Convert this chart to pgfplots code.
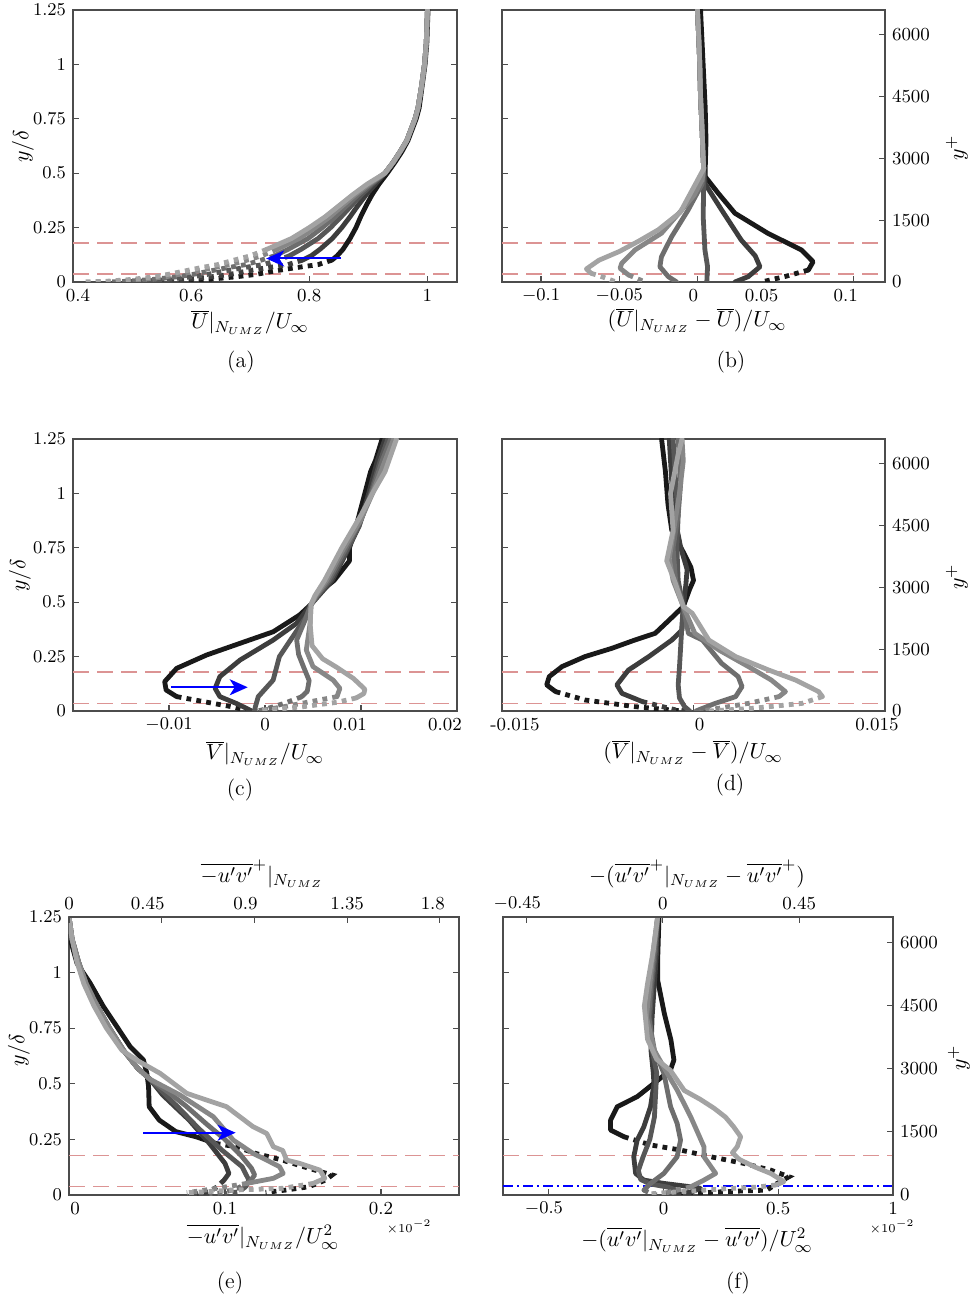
\documentclass[border=0pt]{standalone}
\usepackage{pgfplots}
\pgfplotsset{compat=1.18}
\usetikzlibrary{arrows.meta}

% grey levels of the six conditional profiles (darkest to lightest)
\definecolor{g1}{gray}{0.10}
\definecolor{g2}{gray}{0.24}
\definecolor{g3}{gray}{0.34}
\definecolor{g4}{gray}{0.43}
\definecolor{g5}{gray}{0.53}
\definecolor{g6}{gray}{0.64}
\definecolor{refred}{RGB}{220,148,148}
\definecolor{frame}{gray}{0.30}

\newcommand{\lab}{\fontsize{11}{13}\selectfont}
% shifts a tick label sideways by half the given length
\newcommand{\sh}[2]{\hspace*{#1}#2}

\pgfplotsset{
  panel/.style={
    scale only axis, anchor=south west,
    ymin=0, ymax=1.25,
    ytick={0,0.25,0.5,0.75,1,1.25},
    tick align=inside,
    major tick length=3pt,
    axis line style={frame, line width=0.6pt},
    every tick/.style={frame, line width=0.6pt},
    tick label style={font=\fontsize{9.2}{11}\selectfont},
    xtick pos=left,
    scaled ticks=false,
    clip mode=individual,
  },
  leftpanel/.style={panel, ytick pos=both, yticklabel pos=left},
  rightpanel/.style={panel, ytick pos=left, yticklabels={}},
  overlay/.style={
    scale only axis, anchor=south west,
    tick align=inside,
    major tick length=3pt,
    axis line style={-, frame, line width=0.6pt},
    every tick/.style={frame, line width=0.6pt},
    tick label style={font=\fontsize{9.2}{11}\selectfont},
    scaled ticks=false,
  },
  yplus/.style={
    axis y line*=right,
    ymin=0, ymax=6600,
    ytick={0,1500,3000,4500,6000},
    yticklabels={0,1500,3000,4500,6000},
  },
  sol/.style={line width=2.4pt, line join=round, line cap=round},
  dts/.style={line width=2.4pt, line cap=butt, dash pattern=on 2.4pt off 2.6pt},
  refline/.style={refred, line width=0.8pt, dash pattern=on 8pt off 4pt},
  arr/.style={blue, line width=1pt, -{Stealth[length=9pt,width=8pt,inset=2.5pt]}},
}

\begin{document}
\begin{tikzpicture}
\path[use as bounding box] (0,0) rectangle (489.5pt,650.5pt);

% ---------------- (a) mean streamwise velocity ----------------
\begin{axis}[leftpanel, at={(36.5pt,509.5pt)}, width=192pt, height=136pt,
  xmin=0.4, xmax=1.05, xtick={0.4,0.6,0.8,1}, xticklabels={\sh{5pt}{0.4},0.6,0.8,1}]
\addplot[refline] coordinates {(0.4,0.178)(1.05,0.178)};
\addplot[refline] coordinates {(0.4,0.037)(1.05,0.037)};
\addplot[g1,sol] coordinates {(1.001,1.25)(0.999,1.1)(0.996,1.0)(0.991,0.9)(0.986,0.8)(0.981,0.75)(0.967,0.65)(0.957,0.6)(0.945,0.55)(0.932,0.5)(0.918,0.45)(0.906,0.4)(0.896,0.35)(0.887,0.3)(0.879,0.25)(0.869,0.2)(0.857,0.15)(0.847,0.12)(0.838,0.1)};
\addplot[g1,dts] coordinates {(0.838,0.1)(0.815,0.08)(0.775,0.065)(0.74,0.05)(0.71,0.035)(0.68,0.025)(0.63,0.012)(0.575,0.003)(0.565,0)};
\addplot[g2,sol] coordinates {(1.0,1.25)(0.998,1.1)(0.995,1.0)(0.99,0.9)(0.984,0.8)(0.979,0.75)(0.965,0.65)(0.954,0.6)(0.942,0.55)(0.928,0.5)(0.912,0.45)(0.896,0.4)(0.882,0.35)(0.869,0.3)(0.855,0.25)(0.839,0.2)(0.818,0.15)(0.803,0.12)(0.788,0.1)};
\addplot[g2,dts] coordinates {(0.788,0.1)(0.764,0.08)(0.727,0.065)(0.694,0.05)(0.665,0.035)(0.638,0.025)(0.591,0.012)(0.539,0.003)(0.52,0)};
\addplot[g3,sol] coordinates {(1.0,1.25)(0.998,1.1)(0.995,1.0)(0.99,0.9)(0.984,0.8)(0.979,0.75)(0.965,0.65)(0.954,0.6)(0.942,0.55)(0.928,0.5)(0.907,0.45)(0.888,0.4)(0.871,0.35)(0.854,0.3)(0.836,0.25)(0.815,0.2)(0.786,0.15)(0.766,0.12)};
\addplot[g3,dts] coordinates {(0.766,0.12)(0.747,0.1)(0.722,0.08)(0.687,0.065)(0.656,0.05)(0.628,0.035)(0.604,0.025)(0.559,0.012)(0.509,0.003)(0.483,0)};
\addplot[g4,sol] coordinates {(1.0,1.25)(0.998,1.1)(0.995,1.0)(0.99,0.9)(0.984,0.8)(0.979,0.75)(0.965,0.65)(0.954,0.6)(0.942,0.55)(0.928,0.5)(0.904,0.45)(0.882,0.4)(0.863,0.35)(0.844,0.3)(0.822,0.25)(0.798,0.2)(0.764,0.15)(0.741,0.12)};
\addplot[g4,dts] coordinates {(0.741,0.12)(0.718,0.1)(0.693,0.08)(0.66,0.065)(0.631,0.05)(0.603,0.035)(0.58,0.025)(0.536,0.012)(0.489,0.003)(0.457,0)};
\addplot[g5,sol] coordinates {(1.0,1.25)(0.998,1.1)(0.995,1.0)(0.99,0.9)(0.984,0.8)(0.979,0.75)(0.965,0.65)(0.954,0.6)(0.942,0.55)(0.928,0.5)(0.901,0.45)(0.877,0.4)(0.856,0.35)(0.835,0.3)(0.81,0.25)(0.783,0.2)(0.745,0.15)};
\addplot[g5,dts] coordinates {(0.745,0.15)(0.719,0.12)(0.694,0.1)(0.667,0.08)(0.636,0.065)(0.608,0.05)(0.58,0.035)(0.559,0.025)(0.517,0.012)(0.471,0.003)(0.434,0)};
\addplot[g6,sol] coordinates {(1.0,1.25)(0.998,1.1)(0.995,1.0)(0.99,0.9)(0.984,0.8)(0.979,0.75)(0.965,0.65)(0.954,0.6)(0.942,0.55)(0.928,0.5)(0.898,0.45)(0.873,0.4)(0.85,0.35)(0.827,0.3)(0.8,0.25)(0.77,0.2)(0.728,0.15)};
\addplot[g6,dts] coordinates {(0.728,0.15)(0.7,0.12)(0.672,0.1)(0.645,0.08)(0.615,0.065)(0.588,0.05)(0.561,0.035)(0.541,0.025)(0.5,0.012)(0.455,0.003)(0.415,0)};
\addplot[arr] coordinates {(0.854,0.108)(0.727,0.108)};
\end{axis}

% ---------------- (b) streamwise velocity deficit ----------------
\begin{axis}[rightpanel, at={(251pt,509.5pt)}, width=191.5pt, height=136pt,
  xmin=-0.125, xmax=0.12, xtick={-0.1,-0.05,0,0.05,0.1},
  xticklabels={$-0.1$,$-0.05$,\sh{-4pt}{0},\sh{-14pt}{0.05},\sh{-8pt}{0.1}}]
\addplot[refline] coordinates {(-0.125,0.178)(0.12,0.178)};
\addplot[refline] coordinates {(-0.125,0.037)(0.12,0.037)};
\addplot[g1,sol] coordinates {(0.002,1.25)(0.003,1.1)(0.004,0.95)(0.005,0.8)(0.0055,0.65)(0.005,0.52)(0.005,0.484)(0.0134,0.407)(0.024,0.316)(0.045,0.224)(0.0666,0.147)(0.074,0.093)(0.071,0.055)};
\addplot[g1,dts] coordinates {(0.071,0.055)(0.056,0.025)(0.041,0)};
\addplot[g2,sol] coordinates {(0.0,1.25)(0.001,1.1)(0.0015,1.0)(0.002,0.85)(0.003,0.7)(0.0035,0.6)(0.004,0.52)(0.005,0.45)(0.0155,0.331)(0.028,0.193)(0.037,0.12)(0.04,0.07)(0.0325,0.0245)(0.024,0)};
\addplot[g3,sol] coordinates {(0.0,1.25)(0.001,1.1)(0.0015,1.0)(0.002,0.85)(0.003,0.7)(0.0035,0.6)(0.004,0.52)(0.004,0.45)(0.0037,0.3)(0.0048,0.147)(0.0065,0.07)(0.006,0)};
\addplot[g4,sol] coordinates {(0.0,1.25)(0.001,1.1)(0.0015,1.0)(0.002,0.85)(0.003,0.7)(0.0035,0.6)(0.004,0.52)(0.003,0.45)(-0.006,0.33)(-0.0165,0.208)(-0.023,0.116)(-0.024,0.07)(-0.0186,0.0245)(-0.0133,0)};
\addplot[g5,sol] coordinates {(0.0,1.25)(0.001,1.1)(0.0015,1.0)(0.002,0.85)(0.003,0.7)(0.0035,0.6)(0.004,0.52)(0.003,0.47)(-0.002,0.4)(-0.01,0.331)(-0.023,0.224)(-0.04,0.147)(-0.0484,0.086)(-0.0495,0.063)(-0.044,0.032)};
\addplot[g5,dts] coordinates {(-0.044,0.032)(-0.0335,0)};
\addplot[g6,sol] coordinates {(0.0,1.25)(0.001,1.1)(0.0015,1.0)(0.002,0.85)(0.003,0.7)(0.0035,0.6)(0.004,0.52)(-0.002,0.44)(-0.011,0.32)(-0.025,0.24)(-0.037,0.19)(-0.05,0.14)(-0.063,0.1)(-0.071,0.06)(-0.068,0.04)};
\addplot[g6,dts] coordinates {(-0.068,0.04)(-0.061,0.024)(-0.052,0)};
\end{axis}
\begin{axis}[overlay, yplus, hide x axis, xmin=0, xmax=1, at={(251pt,509.5pt)}, width=191.5pt, height=136pt]
\end{axis}

% ---------------- (c) mean wall-normal velocity ----------------
\begin{axis}[leftpanel, at={(36.5pt,295pt)}, width=192pt, height=136pt,
  xmin=-0.02, xmax=0.02, xtick={-0.01,0,0.01,0.02},
  xticklabels={$-0.01$,0,\sh{-11pt}{0.01},\sh{-12pt}{0.02}}]
\addplot[refline] coordinates {(-0.02,0.178)(0.02,0.178)};
\addplot[refline] coordinates {(-0.02,0.034)(0.02,0.034)};
\addplot[g1,sol] coordinates {(0.0122,1.25)(0.0115,1.15)(0.011,1.1)(0.0104,1.0)(0.0095,0.85)(0.0088,0.75)(0.0088,0.69)(0.0072,0.6)(0.0058,0.55)(0.0048,0.49)(0.0036,0.441)(0.00085,0.364)(-0.0026,0.311)(-0.0061,0.257)(-0.0092,0.196)(-0.01045,0.135)(-0.0103,0.0965)(-0.0092,0.066)};
\addplot[g1,dts] coordinates {(-0.0092,0.066)(-0.0054,0.035)(-0.0035,0.02)(-0.0016,0)};
\addplot[g2,sol] coordinates {(0.0125,1.25)(0.0117,1.15)(0.0108,1.0)(0.0098,0.85)(0.0084,0.72)(0.007,0.6)(0.0056,0.53)(0.0048,0.49)(0.0033,0.403)(0.00085,0.326)(-0.0026,0.234)(-0.0047,0.158)(-0.0052,0.104)(-0.0047,0.066)(-0.003,0.035)(-0.0016,0.005)(-0.0014,0)};
\addplot[g3,sol] coordinates {(0.0128,1.25)(0.012,1.15)(0.011,1.0)(0.0098,0.85)(0.0083,0.72)(0.0068,0.6)(0.0055,0.53)(0.0048,0.49)(0.0043,0.434)(0.0029,0.342)(0.0015,0.25)(0.00085,0.142)(-0.0007,0.066)(-0.001,0.02)(-0.0011,0)};
\addplot[g4,sol] coordinates {(0.0131,1.25)(0.0122,1.15)(0.0111,1.0)(0.0099,0.87)(0.0082,0.73)(0.0066,0.6)(0.0054,0.53)(0.0048,0.49)(0.0042,0.42)(0.0033,0.326)(0.0035,0.26)(0.004,0.204)(0.0046,0.14)(0.0044,0.09)(0.0038,0.065)};
\addplot[g4,dts] coordinates {(0.0038,0.065)(0.002,0.035)(0.0,0.008)(-0.0008,0)};
\addplot[g5,sol] coordinates {(0.0134,1.25)(0.0125,1.15)(0.0112,1.0)(0.01,0.88)(0.0081,0.74)(0.0064,0.6)(0.0053,0.53)(0.0048,0.49)(0.0047,0.403)(0.0043,0.28)(0.005,0.204)(0.0071,0.142)(0.0078,0.104)(0.0075,0.066)};
\addplot[g5,dts] coordinates {(0.0075,0.066)(0.005,0.045)(0.002,0.02)(-0.0008,0)};
\addplot[g6,sol] coordinates {(0.0137,1.25)(0.0125,1.1)(0.0112,1.0)(0.01,0.9)(0.008,0.75)(0.0062,0.6)(0.0052,0.53)(0.0048,0.49)(0.0047,0.4)(0.0049,0.3)(0.006,0.24)(0.0075,0.2)(0.0092,0.15)(0.0104,0.1)(0.0103,0.08)(0.0095,0.06)};
\addplot[g6,dts] coordinates {(0.0095,0.06)(0.0075,0.04)(0.004,0.02)(0.0,0.003)(-0.0006,0)};
\addplot[arr] coordinates {(-0.0098,0.109)(-0.0018,0.109)};
\end{axis}

% ---------------- (d) wall-normal velocity deficit ----------------
\begin{axis}[rightpanel, at={(251pt,295pt)}, width=191.5pt, height=136pt,
  xmin=-0.015, xmax=0.015, xtick={-0.015,0,0.015},
  xticklabels={\sh{13pt}{-0.015},\sh{6pt}{0},\sh{-8pt}{0.015}}]
\addplot[refline] coordinates {(-0.015,0.178)(0.015,0.178)};
\addplot[refline] coordinates {(-0.015,0.034)(0.015,0.034)};
\addplot[g1,sol] coordinates {(-0.0025,1.25)(-0.0022,1.1)(-0.002,0.95)(-0.0017,0.83)(-0.0008,0.73)(-0.0002,0.66)(0.0,0.6)(-0.0003,0.56)(-0.0008,0.48)(-0.0019,0.418)(-0.003,0.357)(-0.0046,0.326)(-0.0064,0.288)(-0.0085,0.25)(-0.0103,0.204)(-0.0113,0.158)(-0.0115,0.12)(-0.0108,0.089)};
\addplot[g1,dts] coordinates {(-0.0108,0.089)(-0.0085,0.0506)(-0.0046,0.02)(-0.0009,0)};
\addplot[g2,sol] coordinates {(-0.0019,1.25)(-0.0017,1.05)(-0.0015,0.9)(-0.001,0.75)(-0.0005,0.65)(-0.0006,0.58)(-0.0008,0.48)(-0.0009,0.372)(-0.0017,0.326)(-0.0035,0.25)(-0.0051,0.188)(-0.006,0.12)(-0.0056,0.081)(-0.004,0.043)};
\addplot[g2,dts] coordinates {(-0.004,0.043)(-0.0014,0.005)(-0.0005,0)};
\addplot[g3,sol] coordinates {(-0.0016,1.25)(-0.0014,1.05)(-0.0012,0.9)(-0.0013,0.75)(-0.0012,0.6)(-0.0008,0.48)(-0.0009,0.4)(-0.001,0.3)(-0.0011,0.2)(-0.0012,0.12)(-0.0011,0.06)(-0.0007,0.02)(-0.0003,0)};
\addplot[g4,sol] coordinates {(-0.0012,1.25)(-0.001,1.05)(-0.0012,0.9)(-0.0016,0.75)(-0.0014,0.6)(-0.0008,0.48)(-0.0004,0.357)(0.0007,0.326)(0.0022,0.219)(0.0035,0.158)(0.0038,0.112)(0.0033,0.066)(0.0017,0.035)(0.0004,0.005)(0.0002,0)};
\addplot[g5,sol] coordinates {(-0.0009,1.25)(-0.0008,1.15)(-0.0011,1.0)(-0.0015,0.85)(-0.0019,0.7)(-0.0016,0.6)(-0.0008,0.48)(0.0001,0.357)(0.002,0.28)(0.0043,0.204)(0.0061,0.142)(0.0072,0.089)(0.0067,0.066)};
\addplot[g5,dts] coordinates {(0.0067,0.066)(0.0043,0.035)(0.0012,0.005)(0.0005,0)};
\addplot[g6,sol] coordinates {(-0.0009,1.25)(-0.0012,1.18)(-0.0018,1.0)(-0.0016,0.83)(-0.0021,0.69)(-0.0015,0.6)(-0.0008,0.48)(-0.0001,0.449)(0.0012,0.326)(0.0033,0.25)(0.0059,0.188)(0.008,0.142)(0.0098,0.089)(0.0101,0.066)};
\addplot[g6,dts] coordinates {(0.0101,0.066)(0.0085,0.035)(0.0046,0.012)(0.0012,0)};
\end{axis}
\begin{axis}[overlay, yplus, hide x axis, xmin=0, xmax=1, at={(251pt,295pt)}, width=191.5pt, height=136pt]
\end{axis}

% ---------------- (e) Reynolds shear stress ----------------
\begin{axis}[leftpanel, at={(34.5pt,53pt)}, width=195pt, height=139pt,
  xmin=0, xmax=0.25, xtick={0,0.1,0.2}, xticklabels={\sh{6pt}{0},0.1,0.2}]
\addplot[refline] coordinates {(0,0.177)(0.25,0.177)};
\addplot[refline] coordinates {(0,0.038)(0.25,0.038)};
\addplot[g1,sol] coordinates {(0,1.17)(0.0051,1.042)(0.0136,0.952)(0.0221,0.847)(0.0307,0.757)(0.0392,0.667)(0.0477,0.607)(0.0499,0.547)(0.051,0.487)(0.0514,0.397)(0.0578,0.337)(0.0685,0.285)(0.0813,0.262)(0.094,0.232)};
\addplot[g1,dts] coordinates {(0.094,0.232)(0.1068,0.217)(0.1196,0.187)(0.1367,0.157)(0.1537,0.12)(0.1687,0.09)(0.1644,0.067)(0.1537,0.037)(0.1388,0.022)(0.126,0.012)};
\addplot[g2,sol] coordinates {(0,1.25)(0.002,1.15)(0.006,1.05)(0.011,0.95)(0.018,0.85)(0.026,0.75)(0.035,0.65)(0.044,0.57)(0.052,0.52)(0.06,0.45)(0.069,0.39)(0.077,0.337)(0.09,0.232)(0.1,0.142)(0.1025,0.097)(0.0994,0.067)};
\addplot[g2,dts] coordinates {(0.0994,0.067)(0.095,0.037)(0.09,0.015)(0.082,0.005)};
\addplot[g3,sol] coordinates {(0,1.25)(0.002,1.15)(0.006,1.05)(0.011,0.95)(0.018,0.85)(0.026,0.75)(0.035,0.65)(0.044,0.57)(0.052,0.52)(0.062,0.45)(0.0706,0.39)(0.083,0.3)(0.098,0.202)(0.111,0.127)(0.1153,0.067)(0.1132,0.037)};
\addplot[g3,dts] coordinates {(0.1132,0.037)(0.109,0.015)(0.1,0.005)};
\addplot[g4,sol] coordinates {(0,1.25)(0.002,1.15)(0.006,1.05)(0.011,0.95)(0.018,0.85)(0.026,0.75)(0.035,0.65)(0.044,0.57)(0.052,0.52)(0.064,0.46)(0.075,0.4)(0.088,0.32)(0.1,0.25)(0.11,0.18)(0.117,0.12)(0.119,0.09)(0.116,0.06)};
\addplot[g4,dts] coordinates {(0.116,0.06)(0.108,0.03)(0.098,0.01)(0.09,0.004)};
\addplot[g5,sol] coordinates {(0,1.25)(0.002,1.15)(0.006,1.05)(0.011,0.95)(0.018,0.85)(0.026,0.75)(0.035,0.65)(0.044,0.57)(0.052,0.52)(0.071,0.45)(0.0925,0.352)(0.1053,0.247)(0.118,0.187)(0.1267,0.157)(0.135,0.127)(0.1373,0.097)(0.131,0.075)(0.1139,0.052)};
\addplot[g5,dts] coordinates {(0.1139,0.052)(0.0947,0.03)(0.0755,0.01)};
\addplot[g6,sol] coordinates {(0,1.25)(0.002,1.15)(0.005,1.05)(0.0095,0.95)(0.016,0.85)(0.024,0.75)(0.034,0.65)(0.045,0.6)(0.0584,0.547)(0.0755,0.457)(0.101,0.397)(0.118,0.307)(0.1267,0.277)(0.131,0.217)(0.137,0.2)(0.1395,0.157)(0.148,0.142)(0.1608,0.112)(0.164,0.075)(0.1565,0.052)};
\addplot[g6,dts] coordinates {(0.1565,0.052)(0.137,0.03)(0.105,0.022)(0.0755,0.01)};
\addplot[arr] coordinates {(0.0475,0.28)(0.1068,0.28)};
\end{axis}
\begin{axis}[overlay, axis x line*=top, hide y axis, ymin=0, ymax=1,
  at={(34.5pt,53pt)}, width=195pt, height=139pt,
  xmin=0, xmax=1.893, xtick={0,0.45,0.9,1.35,1.8},
  xticklabels={0,\sh{-14pt}{0.45},\sh{-9pt}{0.9},1.35,\sh{-7pt}{1.8}}]
\end{axis}

% ---------------- (f) Reynolds shear stress deficit ----------------
\begin{axis}[rightpanel, at={(251.5pt,53pt)}, width=195pt, height=139pt,
  xmin=-0.7, xmax=1.0, xtick={-0.5,0,0.5,1}, xticklabels={\sh{-5pt}{$-0.5$},0,0.5,1}]
\addplot[refline] coordinates {(-0.7,0.177)(1.0,0.177)};
\addplot[blue, line width=0.9pt, dash pattern=on 5pt off 2pt on 1pt off 2pt] coordinates {(-0.7,0.04)(1.0,0.04)};
\addplot[g1,sol] coordinates {(-0.02,1.25)(-0.026,1.05)(-0.026,0.967)(0.003,0.817)(0.032,0.697)(0.045,0.607)(0.03,0.562)(-0.042,0.502)(-0.115,0.442)(-0.202,0.397)(-0.231,0.337)(-0.231,0.292)(-0.173,0.262)};
\addplot[g1,dts] coordinates {(-0.173,0.262)(-0.057,0.225)(0.074,0.202)(0.205,0.172)(0.35,0.142)(0.4666,0.112)(0.5465,0.082)(0.495,0.052)(0.45,0.022)(0.264,0.015)(0.119,0.007)(0.047,0)};
\addplot[g2,sol] coordinates {(-0.026,1.25)(-0.03,1.1)(-0.04,0.95)(-0.05,0.8)(-0.055,0.65)(-0.045,0.55)(-0.042,0.5)(-0.057,0.397)(-0.086,0.307)(-0.115,0.247)(-0.13,0.172)(-0.122,0.097)(-0.086,0.067)(0.0013,0.052)(0.118,0.037)(0.161,0.03)(0.118,0.012)};
\addplot[g2,dts] coordinates {(0.118,0.012)(0.05,0.005)(0.0,0)};
\addplot[g3,sol] coordinates {(-0.026,1.25)(-0.035,1.1)(-0.05,0.95)(-0.06,0.8)(-0.05,0.65)(-0.03,0.55)(-0.035,0.45)(-0.04,0.35)(-0.06,0.25)(-0.09,0.17)(-0.11,0.11)(-0.1,0.07)(-0.06,0.05)(0.02,0.035)(0.06,0.02)};
\addplot[g3,dts] coordinates {(0.06,0.02)(0.02,0.008)(-0.02,0)};
\addplot[g4,sol] coordinates {(-0.026,1.25)(-0.04,1.1)(-0.055,0.95)(-0.065,0.8)(-0.04,0.65)(0.0013,0.547)(0.0305,0.397)(0.059,0.322)(0.074,0.247)(0.059,0.172)(0.0013,0.097)(-0.057,0.052)(-0.086,0.022)};
\addplot[g4,dts] coordinates {(-0.086,0.022)(-0.057,0.007)(-0.03,0)};
\addplot[g5,sol] coordinates {(-0.026,1.25)(-0.045,1.1)(-0.06,0.95)(-0.075,0.8)(-0.04,0.65)(0.016,0.547)(0.059,0.472)(0.118,0.352)(0.176,0.217)(0.176,0.172)(0.227,0.097)(0.176,0.067)(0.118,0.037)};
\addplot[g5,dts] coordinates {(0.118,0.037)(0.059,0.022)(0.0013,0.007)};
\addplot[g6,sol] coordinates {(-0.026,1.25)(-0.045,1.1)(-0.07,0.95)(-0.084,0.85)(-0.07,0.7)(-0.03,0.61)(0.03,0.56)(0.09,0.47)(0.16,0.43)(0.22,0.39)(0.27,0.35)(0.305,0.307)(0.336,0.262)(0.321,0.217)(0.3,0.19)(0.33,0.16)(0.4,0.125)(0.467,0.097)(0.5246,0.06)(0.49,0.045)};
\addplot[g6,dts] coordinates {(0.49,0.045)(0.4,0.035)(0.3,0.03)(0.15,0.02)(0.0,0.01)(-0.06,0.005)};
\end{axis}
\begin{axis}[overlay, yplus, axis x line*=top,
  at={(251.5pt,53pt)}, width=195pt, height=139pt,
  xmin=-0.527, xmax=0.759, xtick={-0.45,0,0.45}, xticklabels={\sh{-9pt}{$-0.45$},0,0.45}]
\end{axis}

% ---------------- axis titles and panel letters ----------------
\node[rotate=90] at (11.5pt,577.5pt) {\lab $y/\delta$};
\node[rotate=90] at (10pt,363pt) {\lab $y/\delta$};
\node[rotate=90] at (9.5pt,125.5pt) {\lab $y/\delta$};
\node[rotate=90] at (478.5pt,576.5pt) {\lab $y^{+}$};
\node[rotate=90] at (478.5pt,362pt) {\lab $y^{+}$};
\node[rotate=90] at (479.5pt,121.5pt) {\lab $y^{+}$};

\node at (125pt,489.5pt) {\lab $\overline{U}|_{N_{UMZ}}/U_\infty$};
\node at (348.5pt,490.5pt) {\lab $(\overline{U}|_{N_{UMZ}}-\overline{U})/U_\infty$};
\node at (132.5pt,274pt) {\lab $\overline{V}|_{N_{UMZ}}/U_\infty$};
\node at (346.5pt,274.5pt) {\lab $(\overline{V}|_{N_{UMZ}}-\overline{V})/U_\infty$};
\node at (131.5pt,32pt) {\lab $\overline{-u'v'}|_{N_{UMZ}}/U_\infty^2$};
\node at (348.5pt,30.5pt) {\lab $-(\overline{u'v'}|_{N_{UMZ}}-\overline{u'v'})/U_\infty^2$};
\node at (131pt,213.5pt) {\lab $\overline{-u'v'}^{+}|_{N_{UMZ}}$};
\node at (348.5pt,213.5pt) {\lab $-(\overline{u'v'}^{+}|_{N_{UMZ}}-\overline{u'v'}^{+})$};
\node at (204.5pt,37pt) {\fontsize{6}{7}\selectfont $\times10^{-2}$};
\node at (446pt,37pt) {\fontsize{6}{7}\selectfont $\times10^{-2}$};

\node at (120.5pt,469.5pt) {\lab (a)};
\node at (365.5pt,469.5pt) {\lab (b)};
\node at (120pt,255.5pt) {\lab (c)};
\node at (365pt,258pt) {\lab (d)};
\node at (115pt,9pt) {\lab (e)};
\node at (369pt,9pt) {\lab (f)};
\end{tikzpicture}
\end{document}
